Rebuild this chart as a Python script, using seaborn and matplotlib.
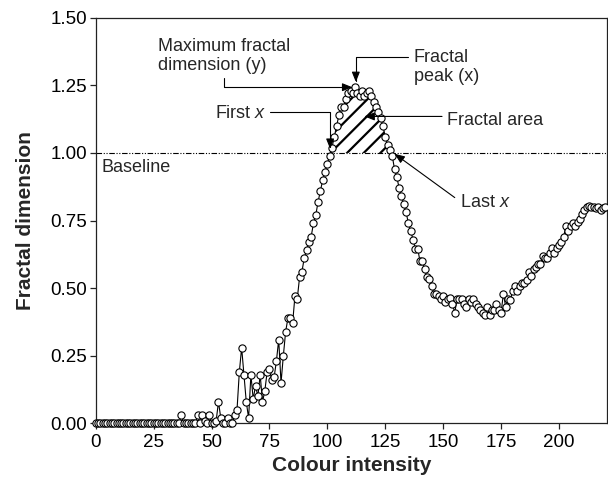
import matplotlib
matplotlib.use("Agg")
import matplotlib.pyplot as plt
import numpy as np
import pandas as pd
import seaborn as sns

# ---------------- data ----------------
intensity = list(range(0, 221))
fractal_dim = [
    0, 0, 0, 0, 0, 0, 0, 0, 0, 0,
    0, 0, 0, 0, 0, 0, 0, 0, 0, 0,
    0, 0, 0, 0, 0, 0, 0, 0, 0, 0,
    0, 0, 0, 0, 0, 0, 0, 0.03, 0, 0,
    0, 0, 0, 0, 0.03, 0.0, 0.03, 0.01, 0.0, 0.03,
    0.0, 0.0, 0.01, 0.08, 0.02, 0.0, 0.0, 0.02, 0.0, 0.0,
    0.03, 0.05, 0.19, 0.28, 0.18, 0.08, 0.02, 0.18, 0.09, 0.14,
    0.10, 0.18, 0.08, 0.12, 0.19, 0.20, 0.16, 0.17, 0.23, 0.31,
    0.15, 0.25, 0.34, 0.39, 0.39, 0.37, 0.47, 0.46, 0.54, 0.56,
    0.61, 0.64, 0.67, 0.69, 0.74, 0.77, 0.82, 0.86, 0.90, 0.93,
    0.96, 0.99, 1.02, 1.06, 1.10, 1.14, 1.17, 1.17, 1.20, 1.22,
    1.23, 1.22, 1.245, 1.22, 1.21, 1.23, 1.21, 1.22, 1.23, 1.21,
    1.19, 1.17, 1.15, 1.13, 1.10, 1.06, 1.03, 1.01, 0.99, 0.94,
    0.91, 0.87, 0.84, 0.81, 0.78, 0.74, 0.71, 0.68, 0.645, 0.645,
    0.60, 0.60, 0.57, 0.54, 0.535, 0.51, 0.48, 0.48, 0.47, 0.46,
    0.47, 0.45, 0.46, 0.465, 0.44, 0.41, 0.46, 0.46, 0.46, 0.44,
    0.43, 0.46, 0.45, 0.46, 0.44, 0.43, 0.42, 0.41, 0.40, 0.43,
    0.40, 0.42, 0.42, 0.44, 0.42, 0.41, 0.48, 0.43, 0.46, 0.455,
    0.49, 0.51, 0.49, 0.51, 0.52, 0.52, 0.53, 0.56, 0.545, 0.57,
    0.58, 0.59, 0.59, 0.62, 0.61, 0.61, 0.63, 0.65, 0.63, 0.65,
    0.66, 0.67, 0.69, 0.73, 0.71, 0.73, 0.74, 0.73, 0.745, 0.755,
    0.775, 0.79, 0.80, 0.805, 0.80, 0.80, 0.795, 0.80, 0.79, 0.795,
    0.80,
]
assert len(intensity) == len(fractal_dim)

x_ticks = [0, 25, 50, 75, 100, 125, 150, 175, 200]
y_ticks = [0.00, 0.25, 0.50, 0.75, 1.00, 1.25, 1.50]
y_tick_labels = ["0.00", "0.25", "0.50", "0.75", "1.00", "1.25", "1.50"]
baseline = 1.0

# ---------------- style ----------------
sns.set_theme(style="ticks")
plt.rcParams["font.family"] = ["Liberation Sans", "DejaVu Sans"]
plt.rcParams["mathtext.fontset"] = "custom"
plt.rcParams["mathtext.rm"] = "Liberation Sans"
plt.rcParams["mathtext.it"] = "Liberation Sans:italic"
plt.rcParams["hatch.linewidth"] = 1.6
plt.rcParams["hatch.color"] = "black"

fig = plt.figure(figsize=(6.08, 4.82), dpi=100)
ax = fig.add_axes([0.1574, 0.1214, 0.8405, 0.8419])

df = pd.DataFrame({"Colour intensity": intensity, "Fractal dimension": fractal_dim})
xv = np.array(intensity, dtype=float)
yv = np.array(fractal_dim, dtype=float)

# hatched fractal area above the baseline
ax.fill_between(xv, yv, baseline, where=(yv >= baseline), interpolate=True,
                facecolor="none", edgecolor="black", hatch="//", linewidth=0,
                zorder=1)

ax.axhline(baseline, color="black", lw=0.8,
           ls=(0, (5, 1.5, 1, 1.5, 1, 1.5)), zorder=1.5)

sns.lineplot(data=df, x="Colour intensity", y="Fractal dimension", ax=ax,
             color="black", lw=0.8, marker="o", markersize=5.2,
             markerfacecolor="white", markeredgecolor="black",
             markeredgewidth=0.8, estimator=None, sort=False, clip_on=False,
             zorder=3)

ax.set_xlim(0, 220.6)
ax.set_ylim(0, 1.5)
ax.set_xticks(x_ticks)
ax.set_xticklabels([str(t) for t in x_ticks])
ax.set_yticks(y_ticks)
ax.set_yticklabels(y_tick_labels)

for s in ax.spines.values():
    s.set_visible(True)
    s.set_color("#222222")
    s.set_linewidth(0.9)

ax.tick_params(axis="both", which="both", direction="out", length=4.5,
               width=0.9, color="#222222", labelsize=13.5, labelcolor="black",
               top=False, right=False)
ax.tick_params(axis="y", pad=1.5)
ax.tick_params(axis="x", pad=3)

ax.set_xlabel("Colour intensity", fontsize=15, fontweight="bold", labelpad=4)
ax.set_ylabel("Fractal dimension", fontsize=15, fontweight="bold", labelpad=11)

# ---------------- annotations ----------------
fs = 13
arrow = dict(arrowstyle="-|>,head_length=0.55,head_width=0.22", color="black",
             lw=0.8, shrinkA=0, shrinkB=0, mutation_scale=11)

ax.text(2.3, 0.93, "Baseline", fontsize=fs, ha="left", va="baseline")

# Maximum fractal dimension (y)
ax.text(26.8, 1.425, "Maximum fractal\ndimension (y)", fontsize=fs,
        ha="left", va="top", linespacing=1.15)
ax.annotate("", xy=(110.8, 1.243), xytext=(55.6, 1.276),
            arrowprops=dict(arrow, connectionstyle="angle,angleA=90,angleB=0,rad=0"))

# Fractal peak (x)
ax.text(137.4, 1.385, "Fractal\npeak (x)", fontsize=fs, ha="left", va="top",
        linespacing=1.15)
ax.annotate("", xy=(112.3, 1.262), xytext=(135.0, 1.355),
            arrowprops=dict(arrow, connectionstyle="angle,angleA=0,angleB=90,rad=0"))

# First x
ax.text(73.6, 1.131, "First $\\mathit{x}$", fontsize=fs, ha="right", va="baseline")
ax.annotate("", xy=(101.2, 1.015), xytext=(75.3, 1.150),
            arrowprops=dict(arrow, connectionstyle="angle,angleA=0,angleB=90,rad=0"))

# Fractal area
ax.text(151.5, 1.105, "Fractal area", fontsize=fs, ha="left", va="baseline")
ax.annotate("", xy=(116.0, 1.135), xytext=(149.5, 1.135), arrowprops=arrow)

# Last x
ax.text(157.4, 0.80, "Last $\\mathit{x}$", fontsize=fs, ha="left", va="baseline")
ax.annotate("", xy=(129.0, 0.997), xytext=(155.0, 0.835), arrowprops=arrow)

fig.savefig("out.png", dpi=100)
